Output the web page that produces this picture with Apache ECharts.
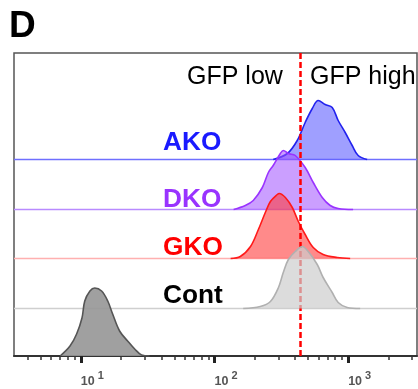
<!DOCTYPE html>
<html>
<head>
<meta charset="utf-8">
<script src="https://cdn.jsdelivr.net/npm/echarts@6/dist/echarts.min.js"></script>
<style>html,body{margin:0;padding:0;background:#fff}#c{width:418px;height:389px}</style>
</head>
<body>
<div id="c"></div>
<script>
// ---- data (fluorescence intensity, relative counts) ----
const akoX  = [275, 351, 416, 477, 539, 597, 673, 760, 842, 950, 1072, 1188, 1387];
const akoY  = [0, 6, 19, 37, 51, 59, 55, 52, 39, 27, 14, 4, 0];
const dkoX  = [139, 170, 195, 228, 253, 275, 311, 327, 357, 402, 477, 548, 640, 734, 842, 1089];
const dkoY  = [0, 4, 9, 22, 37, 44, 56, 59, 56, 54, 42, 27, 12, 4, 1, 0];
const gkoX  = [132, 156, 186, 213, 240, 262, 295, 305, 339, 382, 424, 477, 548, 650, 828, 1035];
const gkoY  = [0, 2, 12, 29, 46, 57, 64, 65, 61, 51, 37, 24, 11, 4, 1, 0];
const contX = [164, 220, 262, 301, 327, 357, 402, 454, 503, 587, 650, 760, 842, 984, 1230];
const contY = [0, 2, 7, 21, 36, 49, 57, 62, 57, 44, 31, 16, 6, 1, 0];
const unstX = [7.0, 8.3, 9.3, 10.2, 10.7, 11.7, 12.7, 14.3, 15.9, 17.3, 19.5, 22.4, 25.3, 28.5, 32.7];
const unstY = [0, 10, 22, 38, 55, 65, 68, 65, 55, 42, 25, 15, 7, 1, 0];
const laneNames   = ['AKO', 'DKO', 'GKO', 'Cont', 'Unstained'];
const laneOffsets = [196.5, 146.5, 97.5, 47.5, 0];
const gateValue = 438;
const xMin = 3.1623, xMax = 3274;
const majorTicks = [10, 100, 1000];
const minorTicks = [4,5,6,7,8,9,20,30,40,50,60,70,80,90,200,300,400,500,600,700,800,900,2000,3000];

const styles = {
  AKO:  {line:'#2222ee', fill:'rgba(80,80,255,0.55)',  base:'#6f6fff', text:'#1a1aff'},
  DKO:  {line:'#9a33ff', fill:'rgba(160,80,255,0.55)', base:'#b98aff', text:'#9933ff'},
  GKO:  {line:'#ff1a1a', fill:'rgba(255,60,60,0.6)',   base:'#ffb0b0', text:'#ff0000'},
  Cont: {line:'#b0b0b0', fill:'rgba(205,205,205,0.7)', base:'#cfcfcf', text:'#000'},
  Unstained: {line:'#555555', fill:'rgba(150,150,150,0.9)', base:null}
};
const xs = [akoX, dkoX, gkoX, contX, unstX];
const ys = [akoY, dkoY, gkoY, contY, unstY];

const series = [];
// baselines of each lane, drawn as flat lines across the axis
laneNames.forEach((name, i) => {
  const st = styles[name];
  if (!st.base) return;
  series.push({
    type:'line', xAxisIndex:0, yAxisIndex:0, symbol:'none', silent:true, z:1 + i,
    color: st.base,
    itemStyle:{color:st.base},
    data:[[xMin, laneOffsets[i]], [xMax, laneOffsets[i]]],
    lineStyle:{color:st.base, width:1.3}
  });
});
laneNames.forEach((name, i) => {
  const off = laneOffsets[i];
  const st = styles[name];
  series.push({
    name, type:'line', xAxisIndex:0, yAxisIndex:0,
    color: st.line,
    data: xs[i].map((x, k) => [x, off + ys[i][k]]),
    smooth: 0.35, symbol:'none',
    lineStyle:{color:st.line, width:1.6},
    areaStyle:{color:st.fill, origin:off, opacity:1},
    z: 2 + i, silent:true
  });
});
series.push({
  type:'line', data:[], xAxisIndex:0, yAxisIndex:0, z:20,
  markLine:{silent:true, symbol:'none', label:{show:false},
    lineStyle:{color:'#ff0000', width:2.5, type:[6,3]},
    data:[{xAxis:gateValue, lineStyle:{color:'#ff0000', width:2.5, type:[6,3]}}]}
});

const chart = echarts.init(document.getElementById('c'), null, {renderer:'canvas'});
chart.setOption({
  animation:false,
  grid:{left:14, right:1, top:53, bottom:33, show:true, borderColor:'#555', borderWidth:1.5, backgroundColor:'#fff'},
  xAxis:[
    {type:'log', logBase:10, min:xMin, max:xMax, position:'bottom',
     axisLine:{show:true, lineStyle:{color:'#333', width:2}},
     axisTick:{show:true, customValues:majorTicks, length:7, lineStyle:{color:'#222', width:3}},
     axisLabel:{show:true, customValues:majorTicks, align:'left', margin:14,
       formatter: v => '{a|10}{b|' + Math.round(Math.log10(v)) + '}',
       rich:{a:{fontFamily:'Liberation Sans', fontSize:12.5, fontWeight:'bold', color:'#555'},
             b:{fontFamily:'Liberation Sans', fontSize:11, fontWeight:'bold', color:'#555', padding:[0,0,12,3]}}},
     splitLine:{show:false}},
    {type:'log', logBase:10, min:xMin, max:xMax, position:'bottom', gridIndex:0,
     axisLine:{show:false},
     axisTick:{show:true, customValues:minorTicks, length:4, lineStyle:{color:'#333', width:1.5}},
     axisLabel:{show:false}, splitLine:{show:false}}
  ],
  yAxis:{type:'value', min:0, max:303, show:false, splitLine:{show:false}},
  series,
  graphic:[
    {type:'text', x:9, y:27, style:{text:'D', font:'bold 37px "Liberation Sans"', fill:'#000', verticalAlign:'middle'}},
    {type:'text', x:187, y:77, style:{text:'GFP low', font:'25px "Liberation Sans"', fill:'#000', verticalAlign:'middle'}, z:30},
    {type:'text', x:310, y:77, style:{text:'GFP high', font:'25px "Liberation Sans"', fill:'#000', verticalAlign:'middle'}, z:30},
    {type:'text', x:163, y:143, scaleX:1.05, style:{text:'AKO', font:'bold 25px "Liberation Sans"', fill:styles.AKO.text, verticalAlign:'middle'}, z:30},
    {type:'text', x:163, y:200, scaleX:1.05, style:{text:'DKO', font:'bold 25px "Liberation Sans"', fill:styles.DKO.text, verticalAlign:'middle'}, z:30},
    {type:'text', x:163, y:248, scaleX:1.05, style:{text:'GKO', font:'bold 25px "Liberation Sans"', fill:styles.GKO.text, verticalAlign:'middle'}, z:30},
    {type:'text', x:163, y:296, scaleX:1.05, style:{text:'Cont', font:'bold 25px "Liberation Sans"', fill:styles.Cont.text, verticalAlign:'middle'}, z:30}
  ]
});
</script>
</body>
</html>
